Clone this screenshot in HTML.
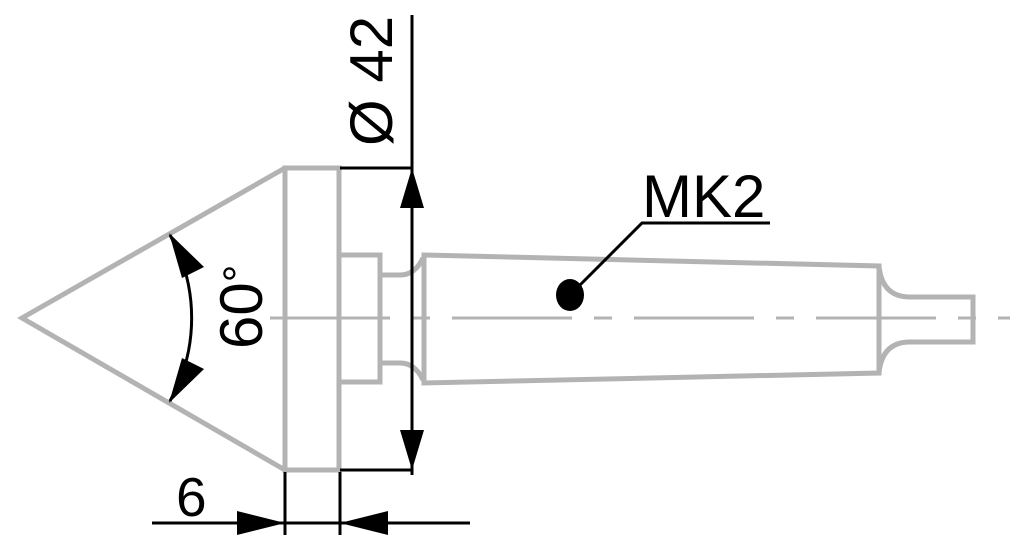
<!DOCTYPE html>
<html><head><meta charset="utf-8"><style>
html,body{margin:0;padding:0;background:#fff;}
svg{display:block;}
text{font-family:"Liberation Sans",Arial,sans-serif;fill:#000;}
</style></head><body>
<svg width="1030" height="559" viewBox="0 0 1030 559" xmlns="http://www.w3.org/2000/svg">
<line x1="270" y1="318" x2="1010" y2="318" stroke="#b3b3b3" stroke-width="3" stroke-dasharray="120 22 18 22"/>
<g fill="none" stroke="#b3b3b3" stroke-width="5" stroke-linejoin="miter">
  <polyline points="285,168 22,318 285,470"/>
  <rect x="285" y="168" width="54" height="302"/>
  <polyline points="339,255 380,255 380,382 339,382"/>
  <path d="M380,275 L400,275 Q415,275 423,258"/>
  <path d="M380,363 L400,363 Q415,363 423,380"/>
  <polygon points="424,255 879,266 879,373 424,383"/>
  <path d="M879,266 Q882,297 910,297 L973,297 L973,342 L910,342 Q882,342 879,373"/>
</g>
<g stroke="#000" stroke-width="3" fill="none">
  <line x1="412" y1="15" x2="412" y2="475"/>
  <line x1="340" y1="168" x2="412" y2="168"/>
  <line x1="340" y1="470" x2="412" y2="470"/>
  <line x1="285" y1="472" x2="285" y2="535"/>
  <line x1="340" y1="472" x2="340" y2="535"/>
  <line x1="152" y1="523" x2="470" y2="523"/>
  <path d="M170,235 A170,170 0 0 1 170,401"/>
  <polyline points="570,295 642,223 770,223"/>
</g>
<g fill="#000">
  <polygon points="412,168 400,208 424,208"/>
  <polygon points="412,470 400,430 424,430"/>
  <polygon points="285,523 237,511 237,535"/>
  <polygon points="340,523 388,511 388,535"/>
  <polygon points="169,233 204,267 182,278"/>
  <polygon points="169,403 204,369 182,358"/>
  <ellipse cx="570" cy="295" rx="14" ry="16"/>
</g>
<text x="642" y="217" font-size="60">MK2</text>
<text x="176" y="516" font-size="55">6</text>
<text transform="translate(392,146) rotate(-90)" font-size="60">Ø 42</text>
<text transform="translate(262,349) rotate(-90)" font-size="60">60<tspan font-size="44" dy="-8">°</tspan></text>
</svg>
</body></html>
